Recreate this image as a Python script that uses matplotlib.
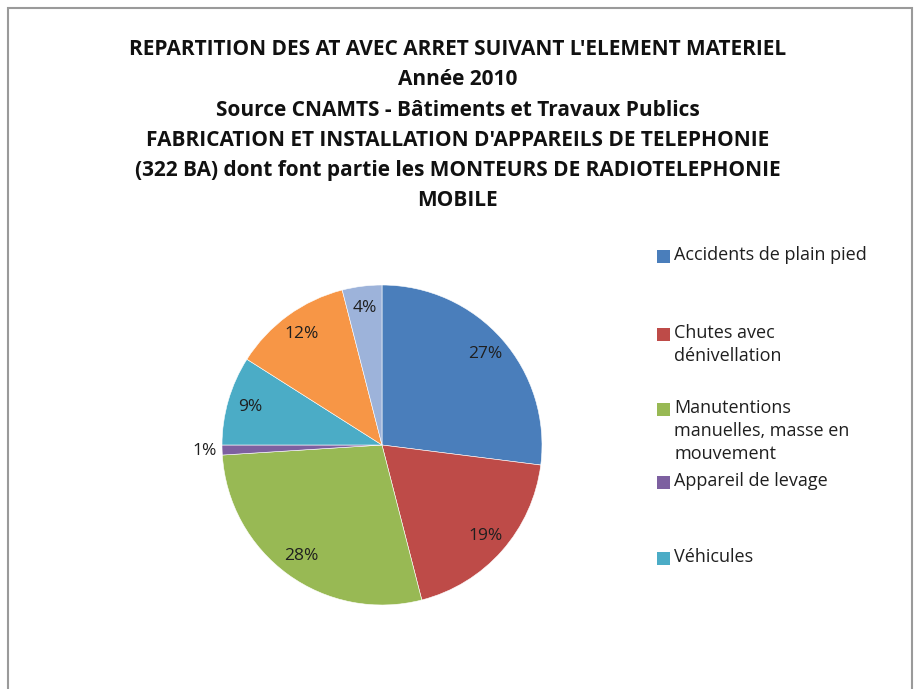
import matplotlib.pyplot as plt
import matplotlib.patches as mpatches
import numpy as np

plt.rcParams.update({"figure.dpi": 100, "font.family": ["Open Sans", "DejaVu Sans"]})

# data
categories = ["Accidents de plain pied", "Chutes avec\ndénivellation",
              "Manutentions\nmanuelles, masse en\nmouvement", "Appareil de levage",
              "Véhicules", "Outils", "Autres"]
values = [27, 19, 28, 1, 9, 12, 4]
colors = ["#4A7EBB", "#BE4B48", "#98B954", "#7D60A0", "#4BACC6", "#F79646", "#9DB3DA"]
shown_in_legend = 5  # the last two entries are cut off in the original

title = ("REPARTITION DES AT AVEC ARRET SUIVANT L'ELEMENT MATERIEL\n"
         "Année 2010\n"
         "Source CNAMTS - Bâtiments et Travaux Publics\n"
         "FABRICATION ET INSTALLATION D'APPAREILS DE TELEPHONIE\n"
         "(322 BA) dont font partie les MONTEURS DE RADIOTELEPHONIE\n"
         "MOBILE")

W, H = 915, 689
fig = plt.figure(figsize=(W / 100, H / 100))

# chart frame (bottom edge is cut off in the original)
fig.patches.append(mpatches.Rectangle((8 / W, -0.05), (912 - 8) / W, 1.05 - 8 / H,
                                      transform=fig.transFigure, fill=False,
                                      edgecolor="#9a9a9a", linewidth=1.5))

cx, cy, r = 382, 445, 160
ax = fig.add_axes([(cx - r) / W, (H - cy - r) / H, 2 * r / W, 2 * r / H])
wedges, texts, autotexts = ax.pie(values, colors=colors, startangle=90, counterclock=False,
                                  autopct="%1.0f%%", pctdistance=0.86,
                                  wedgeprops={"edgecolor": "white", "linewidth": 0.4},
                                  textprops={"fontsize": 12.5, "color": "#1f1f1f"})
ax.set_xlim(-1, 1)
ax.set_ylim(-1, 1)
ax.set_aspect("equal")
ax.set_axis_off()

# the tiny slice gets its label outside the pie
w = wedges[3]
mid = np.deg2rad((w.theta1 + w.theta2) / 2)
autotexts[3].set_position((1.11 * np.cos(mid), 1.11 * np.sin(mid)))

fig.text(0.5, 1 - 39 / H, title, ha="center", va="top", fontsize=15,
         fontweight="bold", linespacing=1.58, color="#111111")

# legend drawn by hand to keep the wide spacing of the original
legend_y = [258, 336, 411, 484, 560]
for lab, col, y in zip(categories[:shown_in_legend], colors, legend_y):
    fig.patches.append(mpatches.Rectangle((657 / W, 1 - (y + 5) / H), 13 / W, 13 / H,
                                          transform=fig.transFigure, facecolor=col,
                                          edgecolor="none"))
    fig.text(674 / W, 1 - (y - 12) / H, lab, ha="left", va="top", fontsize=13,
             linespacing=1.35, color="#1f1f1f")

fig.savefig("out.png", dpi=100)
